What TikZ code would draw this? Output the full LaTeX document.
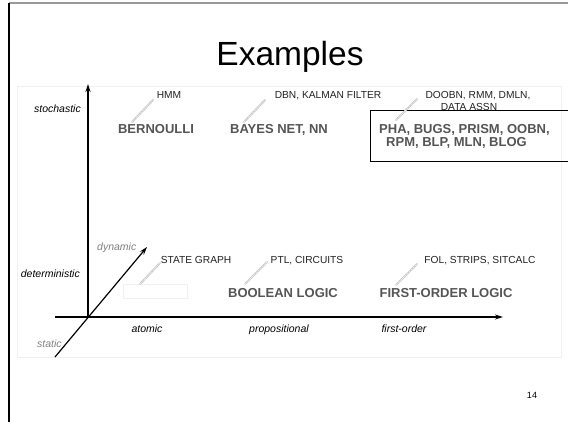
\documentclass[tikz,border=0pt]{standalone}
\usepackage{fontspec}
\setmainfont{Liberation Sans}
\usetikzlibrary{arrows.meta}
\definecolor{boldgray}{HTML}{555555}
\definecolor{lbl}{HTML}{222222}
\definecolor{faint}{HTML}{F0F0F0}
\tikzset{
  axis/.style={line width=1.2pt,-{Stealth[length=8pt,width=5pt]}},
  axislbl/.style={font=\fontsize{10.5}{12}\selectfont\itshape, text=black, inner sep=0pt},
  graylbl/.style={font=\fontsize{10.5}{12}\selectfont\itshape, text=gray, inner sep=0pt},
  small/.style={font=\fontsize{10.2}{11}\selectfont, text=lbl, inner sep=0pt, anchor=base, align=center},
  big/.style={font=\fontsize{13}{15}\selectfont\bfseries, text=boldgray, inner sep=0pt, anchor=base},
  tick/.style={draw=gray!45, line width=2pt, line cap=round},
  tickin/.style={draw=gray!15, line width=0.8pt, dash pattern=on 2pt off 1pt},
}
\begin{document}
\begin{tikzpicture}[x=1pt,y=-1pt]
\useasboundingbox (0,0) rectangle (568,422);
\fill[white] (0,0) rectangle (568,422);
% frame
\draw[gray!80, line width=1.3pt] (9,3) -- (568,3);
\draw[black, line width=1.3pt] (9,3) -- (9,422);
\draw[faint, line width=0.6pt] (17,86) rectangle (561,357);
% title
\node[font=\fontsize{33.5}{36}\selectfont, anchor=base, inner sep=0pt] (title) at (290,66) {Examples};
% axes
\coordinate (O) at (88,317);
\coordinate (ytop) at (88,84);
\coordinate (xleft) at (55,317);
\coordinate (xright) at (503,317);
\coordinate (dlow) at (55,357);
\coordinate (dhigh) at (147,247);
\draw[line width=1.2pt] (O) -- (xleft);
\draw[axis] (O) -- (ytop);
\draw[axis] (xleft) -- (xright);
\draw[axis] (dlow) -- (dhigh);
% axis labels
\node[axislbl, anchor=base east] (sto) at (81,113) {stochastic};
\node[axislbl, anchor=base east] (det) at (80,278) {deterministic};
\node[graylbl, anchor=base west] (dyn) at (97,251) {dynamic};
\node[graylbl, anchor=base west] (sta) at (37,347) {static};
\node[axislbl, anchor=base] (ato) at (147,332) {atomic};
\node[axislbl, anchor=base] (pro) at (279,332) {propositional};
\node[axislbl, anchor=base] (fo) at (404,332) {first-order};
% box
\draw[black, line width=0.9pt] (568,110) -- (370,110) -- (370,161) -- (568,161);
% faint empty box
\draw[faint, line width=0.6pt] (123,284) rectangle (187,298);
% stochastic row
\node[small] (hmm) at (169,99) {HMM};
\node[small] (dbn) at (328,99) {DBN, KALMAN FILTER};
\node[small] (doobn) at (478,99) {DOOBN, RMM, DMLN,};
\node[small] (data) at (469,111) {DATA ASSN};
\node[big] (bern) at (156,134) {BERNOULLI};
\node[big] (bayes) at (279,134) {BAYES NET, NN};
\node[big, anchor=base west] (pha) at (379,134) {PHA, BUGS, PRISM, OOBN,};
\node[big, anchor=base west] (rpm) at (386,147) {RPM, BLP, MLN, BLOG};
% deterministic row
\node[small] (sg) at (196,264) {STATE GRAPH};
\node[small] (ptl) at (307,264) {PTL, CIRCUITS};
\node[small] (fol) at (480,264) {FOL, STRIPS, SITCALC};
\node[big] (bool) at (283,298) {BOOLEAN LOGIC};
\node[big] (fol2) at (446,298) {FIRST-ORDER LOGIC};
% page number
\node[font=\fontsize{9}{10}\selectfont, inner sep=0pt] (pg) at (532,395) {14};
% annotation ticks
\foreach \a/\b/\c/\d in {132/122/153/100, 244/122/265/100, 396/120/417/99, 140/284/160/263, 245/284/267/262, 396/285/417/264}{
  \draw[tick] (\a,\b) -- (\c,\d);
  \draw[tickin] (\a,\b) -- (\c,\d);
}
\end{tikzpicture}
\end{document}
